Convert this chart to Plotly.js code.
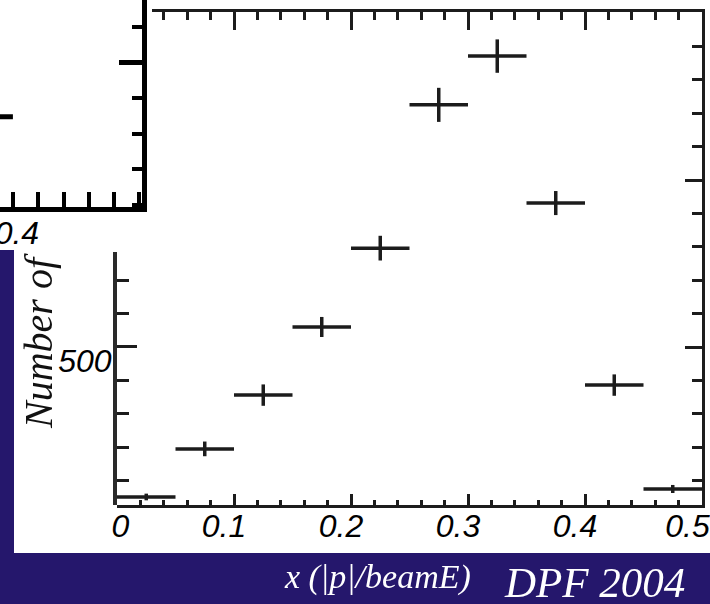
<!DOCTYPE html>
<html><head><meta charset="utf-8">
<script src="https://cdn.plot.ly/plotly-3.0.1.min.js"></script>
<style>html,body{margin:0;padding:0;background:#25176c;}#chart{width:710px;height:604px;}</style>
</head><body><div id="chart"></div>
<script>
// ---- data ----
const binLow   = [0.00, 0.05, 0.10, 0.15, 0.20, 0.25, 0.30, 0.35, 0.40, 0.45];
const binHigh  = [0.05, 0.10, 0.15, 0.20, 0.25, 0.30, 0.35, 0.40, 0.45, 0.50];
const counts   = [51, 195, 356, 560, 796, 1225, 1371, 931, 386, 75];
const countErr = [10, 22, 32, 30, 37, 51, 50, 36, 32, 12];
const xTickVals = [0, 0.1, 0.2, 0.3, 0.4, 0.5];
const xTickText = ['&nbsp;&nbsp;&nbsp;0', '0.1', '0.2', '0.3', '0.4', '0.5&nbsp;'];
const yTickVals = [500];
const yTickText = ['500'];
// partial inset plot (corner of another chart pasted over the slide)
const insetBinLow  = [0.35];
const insetBinHigh = [0.40];
const insetCounts  = [847];
const insetTickVals = [0.4];
const insetTickText = ['0.4'];
const yTitleText = 'Number of';
const xTitleText = 'x (|p|/beamE)';
const footerText = 'DPF 2004';

// ---- helpers ----
const W = 710, H = 604;
const px = v => v / W;
const py = v => 1 - v / H;
const centers = binLow.map((l, i) => (l + binHigh[i]) / 2);
const halfW = binLow.map((l, i) => (binHigh[i] - l) / 2);
const iCenters = insetBinLow.map((l, i) => (l + insetBinHigh[i]) / 2);
const iHalfW = insetBinLow.map((l, i) => (insetBinHigh[i] - l) / 2);

const INK = '#1c1c1c';
const BLUE = '#25176c';
const tickFont = {family: 'Liberation Sans, Arial, sans-serif', size: 32, color: '#000', style: 'italic'};

const traces = [
  {type: 'scatter', mode: 'markers', x: centers, y: counts, xaxis: 'x', yaxis: 'y',
   marker: {size: 2, color: INK},
   error_x: {type: 'data', array: halfW, visible: true, width: 0, thickness: 3.5, color: INK},
   error_y: {type: 'data', array: countErr, visible: true, width: 0, thickness: 3.5, color: INK},
   showlegend: false},
  {type: 'scatter', mode: 'markers', x: iCenters, y: insetCounts, xaxis: 'x2', yaxis: 'y2',
   marker: {size: 2, color: INK},
   error_x: {type: 'data', array: iHalfW, visible: true, width: 0, thickness: 5, color: '#000'},
   showlegend: false},
  // invisible helpers so the partial border axes get their own subplots
  {type: 'scatter', mode: 'markers', x: centers, y: counts, xaxis: 'x3', yaxis: 'y', opacity: 0, hoverinfo: 'skip', showlegend: false},
  {type: 'scatter', mode: 'markers', x: centers, y: counts, xaxis: 'x', yaxis: 'y3', opacity: 0, hoverinfo: 'skip', showlegend: false}
];

const layout = {
  width: W, height: H,
  margin: {l: 0, r: 0, t: 0, b: 0, pad: 0},
  paper_bgcolor: BLUE, plot_bgcolor: 'rgba(0,0,0,0)',
  showlegend: false,
  shapes: [
    {type: 'rect', xref: 'paper', yref: 'paper', x0: 0, x1: 1, y0: py(553), y1: 1, fillcolor: '#ffffff', line: {width: 0}, layer: 'below'},
    {type: 'rect', xref: 'paper', yref: 'paper', x0: 0, x1: px(14), y0: py(553), y1: py(250), fillcolor: BLUE, line: {width: 0}, layer: 'below'}
  ],
  // main bottom axis
  xaxis: {
    domain: [px(117), px(702)], range: [0, 0.5], anchor: 'y',
    showline: true, linecolor: INK, linewidth: 3, showgrid: false, zeroline: false,
    ticks: 'inside', ticklen: 11, tickwidth: 3, tickcolor: INK,
    tickmode: 'array', tickvals: xTickVals, ticktext: xTickText,
    minor: {tickmode: 'linear', tick0: 0, dtick: 0.02, ticks: 'inside', ticklen: 5, tickwidth: 3, tickcolor: INK},
    tickfont: tickFont, ticklabelshift: -10, ticklabelstandoff: -9, ticklabeloverflow: 'allow'
  },
  // main top border (its left end is hidden under the pasted inset)
  xaxis3: {
    domain: [px(152), px(702)], range: [(152 - 117) / 1170, 0.5], anchor: 'y', side: 'top',
    showline: true, linecolor: INK, linewidth: 3, showgrid: false, zeroline: false,
    ticks: 'inside', ticklen: 18, tickwidth: 3, tickcolor: INK,
    tickmode: 'array', tickvals: xTickVals, showticklabels: false,
    minor: {tickmode: 'linear', tick0: 0, dtick: 0.02, ticks: 'inside', ticklen: 8, tickwidth: 3, tickcolor: INK}
  },
  // main right border, full height
  yaxis: {
    domain: [py(505), py(12)], range: [27, 1503], anchor: 'x', side: 'right',
    showline: true, linecolor: INK, linewidth: 3, showgrid: false, zeroline: false,
    ticks: 'inside', ticklen: 17, tickwidth: 3, tickcolor: INK,
    tickmode: 'linear', tick0: 0, dtick: 500, showticklabels: false,
    minor: {tickmode: 'linear', tick0: 0, dtick: 100, ticks: 'inside', ticklen: 10, tickwidth: 3, tickcolor: INK}
  },
  // main left axis, visible lower part only
  yaxis3: {
    domain: [py(505), py(252)], range: [27, 784], anchor: 'x', side: 'left',
    showline: true, linecolor: '#2a2a2a', linewidth: 4, showgrid: false, zeroline: false,
    ticks: 'inside', ticklen: 20, tickwidth: 3, tickcolor: INK,
    tickmode: 'array', tickvals: yTickVals, ticktext: yTickText,
    minor: {tickmode: 'linear', tick0: 0, dtick: 100, ticks: 'inside', ticklen: 12, tickwidth: 3, tickcolor: INK},
    tickfont: tickFont, ticklabelshift: 14, ticklabelstandoff: -5, ticklabeloverflow: 'allow'
  },
  // inset (corner of another chart)
  xaxis2: {
    domain: [0, px(142)], range: [0.3898, 0.502], anchor: 'y2',
    showline: true, linecolor: '#000', linewidth: 5, showgrid: false, zeroline: false,
    ticks: 'inside', ticklen: 15, tickwidth: 4, tickcolor: '#000',
    tickmode: 'array', tickvals: insetTickVals, ticktext: insetTickText,
    minor: {tickmode: 'linear', tick0: 0, dtick: 0.02, ticks: 'inside', ticklen: 15, tickwidth: 4, tickcolor: '#000'},
    tickfont: tickFont, ticklabelshift: 4, ticklabelstandoff: -6, ticklabeloverflow: 'allow'
  },
  yaxis2: {
    domain: [py(207), 1], range: [594, 1175], anchor: 'x2', side: 'right',
    showline: true, linecolor: '#000', linewidth: 5, showgrid: false, zeroline: false,
    ticks: 'inside', ticklen: 23, tickwidth: 5, tickcolor: '#000',
    tickmode: 'linear', tick0: 0, dtick: 500, showticklabels: false,
    minor: {tickmode: 'linear', tick0: 0, dtick: 100, ticks: 'inside', ticklen: 10, tickwidth: 4, tickcolor: '#000'}
  },
  annotations: [
    {xref: 'paper', yref: 'paper', x: px(38), y: py(341), text: yTitleText, showarrow: false, textangle: -90,
     xanchor: 'center', yanchor: 'middle',
     font: {family: 'Liberation Serif, Times New Roman, serif', size: 40, color: '#111', style: 'italic'}},
    {xref: 'paper', yref: 'paper', x: px(378), y: py(577), text: xTitleText, showarrow: false,
     xanchor: 'center', yanchor: 'middle',
     font: {family: 'Liberation Serif, Times New Roman, serif', size: 34, color: '#ffffff', style: 'italic'}},
    {xref: 'paper', yref: 'paper', x: px(594), y: py(582), text: footerText, showarrow: false,
     xanchor: 'center', yanchor: 'middle',
     font: {family: 'Liberation Serif, Times New Roman, serif', size: 43, color: '#ffffff', style: 'italic'}}
  ]
};

Plotly.newPlot('chart', traces, layout, {displayModeBar: false, staticPlot: true});
</script>
</body></html>
